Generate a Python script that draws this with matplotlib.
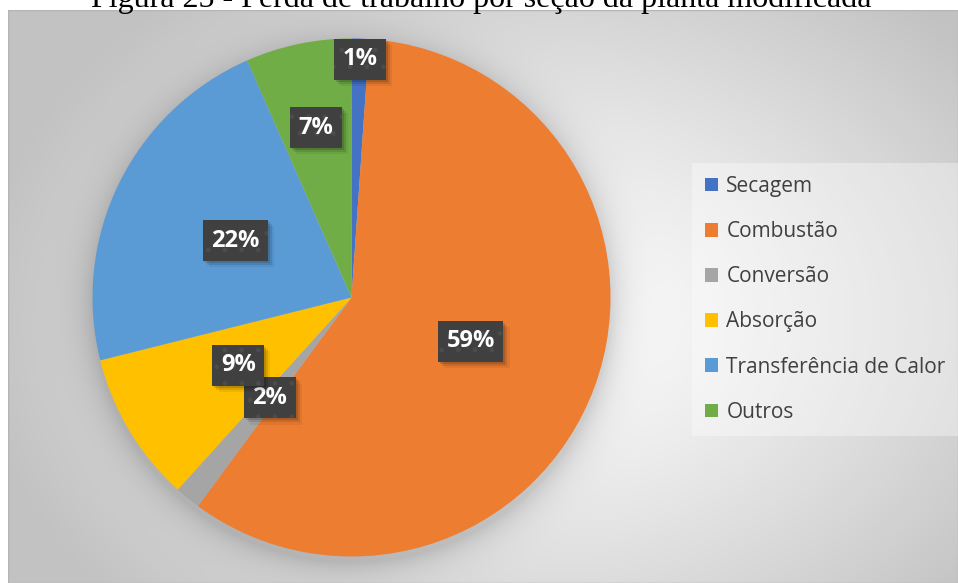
import numpy as np
import matplotlib.pyplot as plt
import matplotlib.patheffects as pe
from matplotlib.patches import Patch, Rectangle

# perda de trabalho por seção (%)
secoes = ['Secagem', 'Combustão', 'Conversão', 'Absorção',
          'Transferência de Calor', 'Outros']
perdas = [1.1, 59.0, 1.6, 9.4, 22.3, 6.6]
cores = ['#4472C4', '#ED7D31', '#A5A5A5', '#FFC000', '#5B9BD5', '#70AD47']
titulo = 'Figura 25 - Perda de trabalho por seção da planta modificada'


class Sombra(pe.AbstractPathEffect):
    """Sombra deslocada da caixa, sem a textura pontilhada."""

    def __init__(self, offset, alpha):
        super().__init__(offset)
        self.alpha = alpha

    def draw_path(self, renderer, gc, tpath, affine, rgbFace):
        gc0 = renderer.new_gc()
        gc0.copy_properties(gc)
        gc0.set_hatch(None)
        gc0.set_linewidth(0)
        gc0.set_alpha(self.alpha)
        renderer.draw_path(gc0, tpath, affine + self._offset_transform(renderer),
                           (0, 0, 0))
        gc0.restore()


W, H = 958, 583
fig = plt.figure(figsize=(W / 100, H / 100), dpi=100)

# area do grafico e pizza, em pixels a partir do canto superior esquerdo
x0, y0 = 8, 10
cx, cy, r = 351.5, 297.5, 259

# fundo com gradiente radial e sombra suave da pizza
bg = fig.add_axes([x0 / W, 0, (W - x0) / W, (H - y0) / H])
xx, yy = np.meshgrid(np.arange(x0, W) + 0.5, np.arange(y0, H) + 0.5)
t = np.clip(np.hypot((xx - 540) / 560, (yy - 320) / 420), 0, 1)
lum = 255 - 60 * t ** 1.2
d = np.hypot(xx - cx, yy - (cy + 6)) - r
lum = lum * (1 - 0.16 * np.exp(-np.clip(d, 0, None) / 16))
bg.imshow(np.dstack([lum] * 3) / 255, aspect='auto', interpolation='bilinear')
bg.axis('off')
bg.add_patch(Rectangle((0, 0), 1, 1, transform=bg.transAxes, fill=False,
                       ec='#b4b4b4', lw=1))

ax = fig.add_axes([(cx - r) / W, (H - cy - r) / H, 2 * r / W, 2 * r / H])
ax.pie(perdas, colors=cores, startangle=90, counterclock=False,
       wedgeprops=dict(linewidth=0))
ax.set_xlim(-1, 1)
ax.set_ylim(-1, 1)

# rotulos de dados com caixa escura e sombra difusa
dist = [0.92, 0.49, 0.50, 0.51, 0.50, 0.67]
sombra = [Sombra((1.5, -1.5), 0.14), Sombra((3, -3), 0.10),
          Sombra((4.5, -4.5), 0.06), pe.Normal()]
total = sum(perdas)
acum = 0
for v, k in zip(perdas, dist):
    ang = np.deg2rad(90 - (acum + v / 2) / total * 360)
    acum += v
    txt = ax.text(k * np.cos(ang), k * np.sin(ang), f'{v / total * 100:.0f}%',
                  ha='center', va='center', color='white', fontsize=17,
                  fontweight='bold', family='Open Sans', zorder=5,
                  bbox=dict(boxstyle='square,pad=0.36', fc='#404040',
                            ec='#4c4c4c', lw=0, hatch='.'))
    txt.get_bbox_patch().set_path_effects(sombra)

handles = [Patch(fc=c, ec='none') for c in cores]
fig.legend(handles, secoes, loc='upper left',
           bbox_to_anchor=(692 / W, 1 - 163 / H), borderaxespad=0,
           frameon=True, fancybox=False, facecolor='white', framealpha=0.35,
           edgecolor='none', prop=dict(family='Open Sans', size=15),
           labelcolor='#404040', handlelength=0.63, handleheight=0.63,
           handletextpad=0.4, labelspacing=1.16, borderpad=0.62)

fig.text(481 / W, 1 - 7.5 / H, titulo, ha='center', va='baseline',
         family='Liberation Serif', fontsize=23, color='black')

fig.savefig('out.png', dpi=100)
